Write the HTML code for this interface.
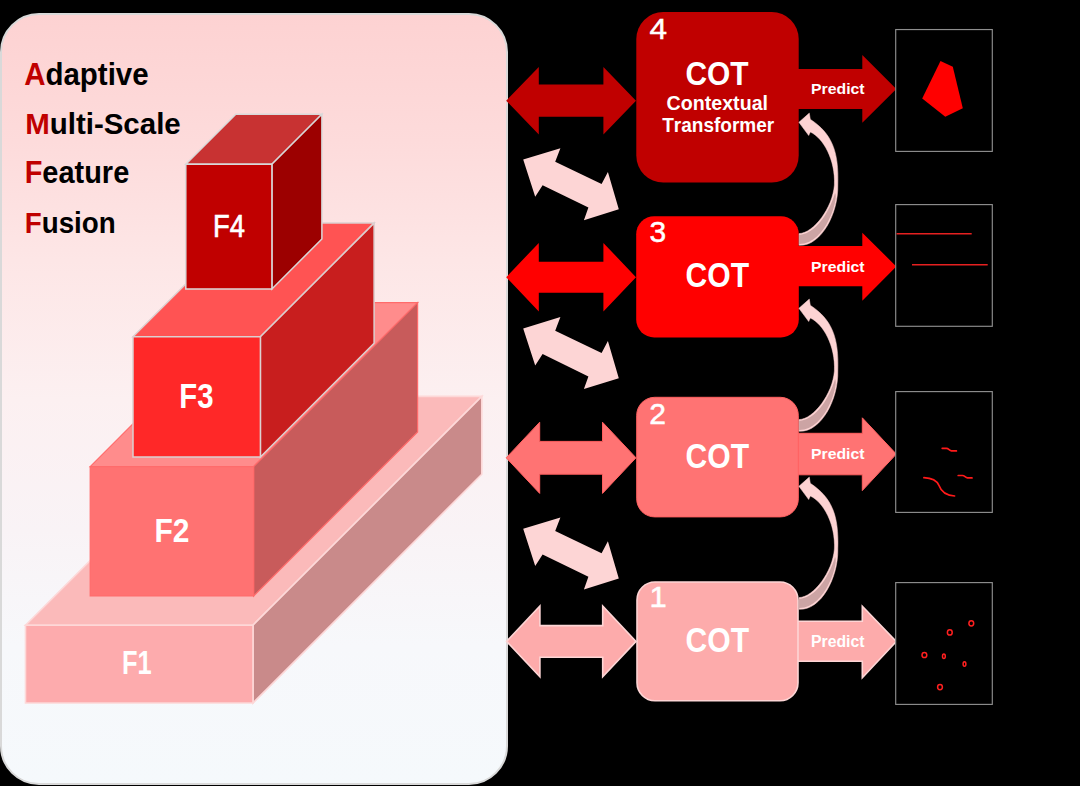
<!DOCTYPE html><html><head><meta charset="utf-8"><style>html,body{margin:0;padding:0;background:#000;}svg{display:block;font-family:"Liberation Sans",sans-serif;font-kerning:none;}text{font-kerning:none;}</style></head><body>
<svg width="1080" height="786" viewBox="0 0 1080 786">
<defs><linearGradient id="pg" x1="0" y1="0" x2="0" y2="1"><stop offset="0" stop-color="#fdd2d2"/><stop offset="0.165" stop-color="#fddbdb"/><stop offset="0.32" stop-color="#fde6e6"/><stop offset="0.5" stop-color="#fcf0f1"/><stop offset="0.67" stop-color="#f9f3f6"/><stop offset="0.82" stop-color="#f7f8fb"/><stop offset="1" stop-color="#f5f9fc"/></linearGradient></defs>
<rect x="0" y="0" width="1080" height="786" fill="#000"/>
<rect x="1" y="14" width="506" height="770" rx="38" ry="38" fill="url(#pg)" stroke="#d9d9d9" stroke-width="2"/>
<polygon points="25.50,625.20 254.30,396.40 481.80,396.40 253.00,625.20" fill="#fbbaba" stroke="#fdd8d8" stroke-width="1.6" stroke-linejoin="miter"/>
<polygon points="253.00,625.20 481.80,396.40 481.80,474.20 253.00,703.00" fill="#c98a8a" stroke="#fdd8d8" stroke-width="1.6" stroke-linejoin="miter"/>
<polygon points="25.50,625.20 253.00,625.20 253.00,703.00 25.50,703.00" fill="#fdabad" stroke="#fdd8d8" stroke-width="1.6" stroke-linejoin="miter"/>
<polygon points="90.20,466.60 254.20,302.60 417.60,302.60 253.60,466.60" fill="#ff8c8c" stroke="#ff6b6b" stroke-width="1.2" stroke-linejoin="miter"/>
<polygon points="253.60,466.60 417.60,302.60 417.60,432.00 253.60,596.00" fill="#c85b5b" stroke="#ff6b6b" stroke-width="1.2" stroke-linejoin="miter"/>
<polygon points="90.20,466.60 253.60,466.60 253.60,596.00 90.20,596.00" fill="#ff7272" stroke="#ff6b6b" stroke-width="1.2" stroke-linejoin="miter"/>
<polygon points="133.00,336.80 246.70,223.10 374.10,223.10 260.40,336.80" fill="#ff5353" stroke="#dcd0d0" stroke-width="1.5" stroke-linejoin="miter"/>
<polygon points="260.40,336.80 374.10,223.10 374.10,343.30 260.40,457.00" fill="#c81e1e" stroke="#dcd0d0" stroke-width="1.5" stroke-linejoin="miter"/>
<polygon points="133.00,336.80 260.40,336.80 260.40,457.00 133.00,457.00" fill="#ff2828" stroke="#dcd0d0" stroke-width="1.5" stroke-linejoin="miter"/>
<polygon points="185.80,164.20 235.80,114.20 321.90,114.20 271.90,164.20" fill="#c83232" stroke="#d9d9d9" stroke-width="1.5" stroke-linejoin="miter"/>
<polygon points="271.90,164.20 321.90,114.20 321.90,239.00 271.90,289.00" fill="#9c0000" stroke="#d9d9d9" stroke-width="1.5" stroke-linejoin="miter"/>
<polygon points="185.80,164.20 271.90,164.20 271.90,289.00 185.80,289.00" fill="#c00000" stroke="#d9d9d9" stroke-width="1.5" stroke-linejoin="miter"/>
<text transform="translate(213.01 236.80) scale(0.8745 1)" font-size="31.25" font-weight="normal" fill="#fff" stroke="#fff" stroke-width="0.69">F4</text>
<text transform="translate(179.34 408.00) scale(0.8441 1)" font-size="34.74" font-weight="bold" fill="#fff">F3</text>
<text transform="translate(154.49 541.90) scale(0.8896 1)" font-size="33.72" font-weight="bold" fill="#fff">F2</text>
<text transform="translate(122.00 674.10) scale(0.7583 1)" font-size="33.58" font-weight="bold" fill="#fff">F1</text>
<text transform="translate(24.17 84.70) scale(0.9570 1)" font-size="30.81" font-weight="bold" fill="#000"><tspan fill="#c00000">A</tspan><tspan fill="#000">daptive</tspan></text>
<text transform="translate(25.13 133.70) scale(0.9898 1)" font-size="29.80" font-weight="bold" fill="#000"><tspan fill="#c00000">M</tspan><tspan fill="#000">ulti-Scale</tspan></text>
<text transform="translate(24.66 183.40) scale(0.9444 1)" font-size="30.67" font-weight="bold" fill="#000"><tspan fill="#c00000">F</tspan><tspan fill="#000">eature</tspan></text>
<text transform="translate(24.74 232.60) scale(0.9373 1)" font-size="29.65" font-weight="bold" fill="#000"><tspan fill="#c00000">F</tspan><tspan fill="#000">usion</tspan></text>
<polygon points="506.20,100.70 538.80,66.90 538.80,84.60 603.40,84.60 603.40,66.90 636.00,100.70 603.40,134.50 603.40,116.80 538.80,116.80 538.80,134.50" fill="#c00000"/>
<polygon points="506.20,277.20 538.80,242.90 538.80,261.70 603.40,261.70 603.40,242.90 636.00,277.20 603.40,311.50 603.40,292.70 538.80,292.70 538.80,311.50" fill="#ff0000"/>
<polygon points="506.20,457.80 539.70,422.20 539.70,441.40 602.50,441.40 602.50,422.20 636.00,457.80 602.50,493.40 602.50,474.20 539.70,474.20 539.70,493.40" fill="#ff7373" stroke="#ff5e5e" stroke-width="1" stroke-linejoin="miter"/>
<polygon points="506.60,641.40 539.90,606.00 539.90,625.60 602.70,625.60 602.70,606.00 636.00,641.40 602.70,676.80 602.70,657.20 539.90,657.20 539.90,676.80" fill="#fdabab" stroke="#fdd5d5" stroke-width="1.6" stroke-linejoin="miter"/>
<polygon points="523.20,159.50 560.40,148.20 555.20,161.80 601.60,184.10 607.90,172.10 618.80,209.30 583.90,220.20 588.40,207.60 542.60,185.20 535.20,196.70" fill="#fdd5d5"/>
<polygon points="523.20,328.40 560.40,317.10 555.20,330.70 601.60,353.00 607.90,341.00 618.80,378.20 583.90,389.10 588.40,376.50 542.60,354.10 535.20,365.60" fill="#fdd5d5"/>
<polygon points="523.20,528.70 560.40,517.40 555.20,531.00 601.60,553.30 607.90,541.30 618.80,578.50 583.90,589.40 588.40,576.80 542.60,554.40 535.20,565.90" fill="#fdd5d5"/>
<polygon points="790.00,69.00 862.30,69.00 862.30,55.00 896.30,89.00 862.30,122.70 862.30,109.10 790.00,109.10" fill="#c00000"/>
<polygon points="790.00,246.10 862.30,246.10 862.30,232.70 896.30,266.40 862.30,300.80 862.30,286.20 790.00,286.20" fill="#ff0000"/>
<polygon points="790.00,433.30 862.30,433.30 862.30,417.80 896.30,454.10 862.30,490.60 862.30,474.80 790.00,474.80" fill="#ff7373" stroke="#ff6060" stroke-width="1" stroke-linejoin="miter"/>
<polygon points="790.00,621.20 862.30,621.20 862.30,606.30 896.30,641.50 862.30,677.80 862.30,661.30 790.00,661.30" fill="#fdabab" stroke="#fdd5d5" stroke-width="1.6" stroke-linejoin="miter"/>
<rect x="636.3" y="12" width="162.4" height="170.6" rx="27" fill="#c00000"/>
<rect x="636.2" y="216.2" width="162.6" height="121.2" rx="18" fill="#ff0000"/>
<rect x="636.7" y="397.3" width="161.6" height="119.6" rx="18" fill="#ff7373" stroke="#ff6060" stroke-width="1"/>
<rect x="637" y="582" width="161" height="118.8" rx="18" fill="#fdabab" stroke="#fdd5d5" stroke-width="1.6"/>
<text transform="translate(811.04 94.10) scale(1.0449 1)" font-size="15.12" font-weight="bold" fill="#fff">Predict</text>
<text transform="translate(811.04 271.50) scale(1.0252 1)" font-size="15.41" font-weight="bold" fill="#fff">Predict</text>
<text transform="translate(811.04 459.20) scale(1.0156 1)" font-size="15.55" font-weight="bold" fill="#fff">Predict</text>
<text transform="translate(811.04 647.00) scale(0.9879 1)" font-size="15.99" font-weight="bold" fill="#fff">Predict</text>
<text transform="translate(649.43 39.40) scale(1.0747 1)" font-size="29.36" font-weight="normal" fill="#fff" stroke="#fff" stroke-width="0.47">4</text>
<text transform="translate(685.47 85.30) scale(0.8834 1)" font-size="33.87" font-weight="bold" fill="#fff">COT</text>
<text transform="translate(666.59 110.00) scale(0.9865 1)" font-size="19.91" font-weight="bold" fill="#fff">Contextual</text>
<text transform="translate(662.19 131.90) scale(0.9771 1)" font-size="19.48" font-weight="bold" fill="#fff">Transformer</text>
<text transform="translate(649.61 242.30) scale(1.0355 1)" font-size="28.92" font-weight="normal" fill="#fff" stroke="#fff" stroke-width="0.48">3</text>
<text transform="translate(685.56 287.30) scale(0.8596 1)" font-size="35.03" font-weight="bold" fill="#fff">COT</text>
<text transform="translate(649.14 424.10) scale(1.0449 1)" font-size="28.78" font-weight="normal" fill="#fff" stroke="#fff" stroke-width="0.48">2</text>
<text transform="translate(685.56 467.70) scale(0.8632 1)" font-size="34.88" font-weight="bold" fill="#fff">COT</text>
<text transform="translate(649.38 606.90) scale(1.0638 1)" font-size="29.22" font-weight="normal" fill="#fff" stroke="#fff" stroke-width="0.47">1</text>
<text transform="translate(685.56 652.10) scale(0.8632 1)" font-size="34.88" font-weight="bold" fill="#fff">COT</text>
<path d="M799.1,245.3 C821.0,246.6 838.5,213.5 837.8,185.0 C839.1,150.5 831.4,133.3 810.3,119.3 L809.3,113.1 L798.9,122.3 L808.7,135.5 L810.3,132.0 C823.2,137.8 835.6,159.9 834.4,185.0 C832.7,207.8 813.7,233.1 799.1,233.6 Z" fill="#fdd3d3" stroke="#fdd3d3" stroke-width="0.5"/>
<path d="M799.1,235.1 C821.0,232.6 832.5,201.9 835.0,193.0 C839.2,196.5 826.4,244.4 799.1,244.0 Z" fill="#cca4a4"/>
<path d="M799.1,431.3 C821.0,432.6 838.5,399.5 837.8,371.0 C839.1,336.5 831.4,319.3 810.3,305.3 L809.3,299.1 L798.9,308.3 L808.7,321.5 L810.3,318.0 C823.2,323.8 835.6,345.9 834.4,371.0 C832.7,393.8 813.7,419.1 799.1,419.6 Z" fill="#fdd3d3" stroke="#fdd3d3" stroke-width="0.5"/>
<path d="M799.1,421.1 C821.0,418.6 832.5,387.9 835.0,379.0 C839.2,382.5 826.4,430.4 799.1,430.0 Z" fill="#cca4a4"/>
<path d="M799.1,609.3 C821.0,610.6 838.5,577.5 837.8,549.0 C839.1,514.5 831.4,497.3 810.3,483.3 L809.3,477.1 L798.9,486.3 L808.7,499.5 L810.3,496.0 C823.2,501.8 835.6,523.9 834.4,549.0 C832.7,571.8 813.7,597.1 799.1,597.6 Z" fill="#fdd3d3" stroke="#fdd3d3" stroke-width="0.5"/>
<path d="M799.1,599.1 C821.0,596.6 832.5,565.9 835.0,557.0 C839.2,560.5 826.4,608.4 799.1,608.0 Z" fill="#cca4a4"/>
<rect x="895.7" y="29.55" width="96.6" height="121.85" fill="#000" stroke="#8e8e8e" stroke-width="1.15"/>
<rect x="895.7" y="204.60" width="96.6" height="121.70" fill="#000" stroke="#8e8e8e" stroke-width="1.15"/>
<rect x="895.7" y="391.60" width="96.6" height="120.80" fill="#000" stroke="#8e8e8e" stroke-width="1.15"/>
<rect x="895.7" y="582.60" width="96.6" height="121.80" fill="#000" stroke="#8e8e8e" stroke-width="1.15"/>
<polygon points="940.5,61 952.8,66.7 962.8,108.3 945.3,116.7 922.2,98.6" fill="#ff0000"/>
<line x1="896.5" y1="233.7" x2="971.7" y2="233.7" stroke="#e52020" stroke-width="1.6"/>
<line x1="912" y1="264.8" x2="987.7" y2="264.8" stroke="#e52020" stroke-width="1.6"/>
<path d="M942.2,448.4 L946.5,448.3 C948.5,448.3 949.5,450.6 951.5,450.9 L956.4,450.9" fill="none" stroke="#ff1a1a" stroke-width="1.7" stroke-linecap="round"/>
<path d="M958.2,475.5 L962.5,475.5 C964.5,475.5 965.5,477.7 967.5,477.9 L972,477.9" fill="none" stroke="#ff1a1a" stroke-width="1.7" stroke-linecap="round"/>
<path d="M923.9,477.7 C931,478 937,481 939,485.5 C941,491 945,495.5 954.6,496" fill="none" stroke="#ff1a1a" stroke-width="1.7" stroke-linecap="round"/>
<ellipse cx="971.3" cy="623.3" rx="2.4" ry="2.6" fill="none" stroke="#ff2020" stroke-width="1.5"/>
<ellipse cx="949.8" cy="632.4" rx="2.4" ry="2.6" fill="none" stroke="#ff2020" stroke-width="1.5"/>
<ellipse cx="924.4" cy="655.0" rx="2.4" ry="2.6" fill="none" stroke="#ff2020" stroke-width="1.5"/>
<ellipse cx="943.9" cy="656.3" rx="1.4" ry="2.3" fill="none" stroke="#ff2020" stroke-width="1.5"/>
<ellipse cx="964.5" cy="664.0" rx="1.4" ry="2.3" fill="none" stroke="#ff2020" stroke-width="1.5"/>
<ellipse cx="940.0" cy="687.1" rx="2.4" ry="2.6" fill="none" stroke="#ff2020" stroke-width="1.5"/>
</svg></body></html>
